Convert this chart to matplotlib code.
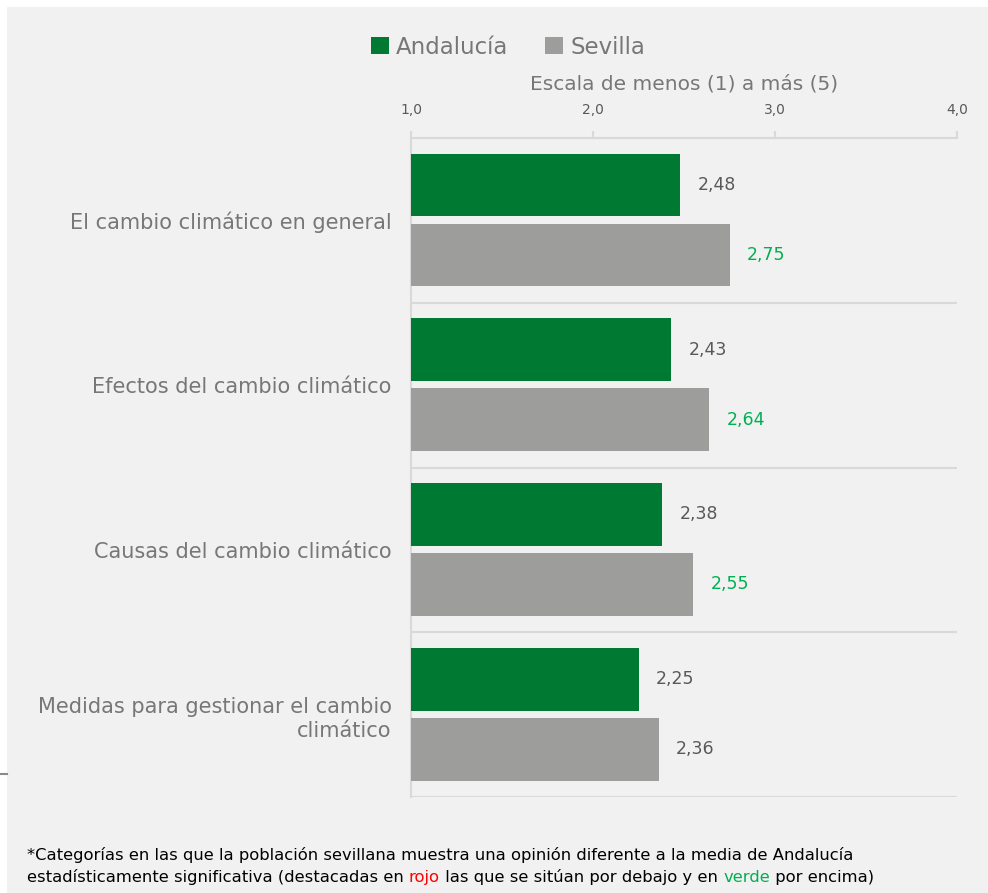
import matplotlib.pyplot as plt
from matplotlib.patches import Rectangle

categories = [
    "El cambio climático en general",
    "Efectos del cambio climático",
    "Causas del cambio climático",
    "Medidas para gestionar el cambio\nclimático",
]
andalucia = [2.48, 2.43, 2.38, 2.25]
sevilla = [2.75, 2.64, 2.55, 2.36]
sevilla_highlight = [True, True, True, False]
ticks = [1.0, 2.0, 3.0, 4.0]

GREEN = "#007a33"
GREY = "#9d9d9b"
HIGHLIGHT = "#00b050"
BG = "#f1f1f1"
TXT = "#777777"
DARK = "#595959"
NARROW = ["Liberation Sans Narrow", "DejaVu Sans"]

plt.rcParams["font.family"] = ["DejaVu Sans"]

fig = plt.figure(figsize=(9.88, 8.93), dpi=100)
fig.patch.set_facecolor("white")
fig.patches.append(Rectangle((7 / 988, 0), 1, 1 - 7 / 893, transform=fig.transFigure,
                             facecolor=BG, edgecolor="none", zorder=-10))
fig.lines.append(plt.Line2D([0, 7 / 988], [1 - 774 / 893] * 2, transform=fig.transFigure,
                            color="#8a8a8a", lw=1.5))

ax = fig.add_axes([411 / 988, 1 - 797 / 893, (957 - 411) / 988, (797 - 138) / 893])
ax.set_facecolor("none")

pos = list(range(len(categories)))
h = 0.38
ax.barh([p + 0.285 for p in pos], [v - 1 for v in andalucia], left=1, height=h,
        color=GREEN, label="Andalucía", zorder=3)
ax.barh([p + 0.71 for p in pos], [v - 1 for v in sevilla], left=1, height=h,
        color=GREY, label="Sevilla", zorder=3)

for p, a, s, hl in zip(pos, andalucia, sevilla, sevilla_highlight):
    ax.text(a + 0.095, p + 0.285, f"{a:.2f}".replace(".", ","), va="center", ha="left",
            fontsize=12.5, color=DARK)
    ax.text(s + 0.095, p + 0.71, f"{s:.2f}".replace(".", ","), va="center", ha="left",
            fontsize=12.5, color=HIGHLIGHT if hl else DARK)

ax.set_xlim(1, 4)
ax.set_ylim(len(categories), 0)
for y in range(1, len(categories) + 1):
    ax.axhline(y, color="#d9d9d9", lw=1.5, zorder=1)

ax.xaxis.tick_top()
ax.set_xticks(ticks)
ax.set_xticklabels([f"{t:.1f}".replace(".", ",") for t in ticks], fontsize=10, color=DARK)
ax.tick_params(axis="x", direction="out", length=5, width=1.5, color="#d9d9d9", pad=10)
ax.set_xlabel("Escala de menos (1) a más (5)", fontsize=14.5, color=TXT, labelpad=10)
ax.xaxis.set_label_position("top")

ax.set_yticks([p + 0.5 for p in pos])
ax.set_yticklabels(categories, fontsize=15, color=TXT, linespacing=1.3)
ax.tick_params(axis="y", length=0, pad=14)

for side in ["right", "bottom"]:
    ax.spines[side].set_visible(False)
for side in ["top", "left"]:
    ax.spines[side].set_color("#d9d9d9")
    ax.spines[side].set_linewidth(1.5)

fig.legend(loc="center", bbox_to_anchor=(508 / 988, 1 - 47 / 893), ncol=2, frameon=False,
           fontsize=16.5, labelcolor=TXT, handlelength=0.8, handleheight=0.8,
           handletextpad=0.3, columnspacing=1.6)

# footnote with coloured words
line1 = ("*Categorías en las que la población sevillana muestra una opinión diferente "
         "a la media de Andalucía")
fig.text(27 / 988, 1 - 855 / 893, line1, fontsize=11.8, color="black", va="center",
         family=NARROW)
parts = [
    ("estadísticamente significativa (destacadas en ", "black"),
    ("rojo", "#ff0000"),
    (" las que se sitúan por debajo y en ", "black"),
    ("verde", HIGHLIGHT),
    (" por encima)", "black"),
]
prev = fig.text(27 / 988, 1 - 877 / 893, parts[0][0], fontsize=11.8, color=parts[0][1],
                va="center", family=NARROW)
for txt, col in parts[1:]:
    prev = ax.annotate(txt, xy=(1, 0), xycoords=prev, va="bottom", ha="left",
                       fontsize=11.8, color=col, family=NARROW, annotation_clip=False)

fig.savefig("out.png", dpi=100, facecolor=fig.get_facecolor())
